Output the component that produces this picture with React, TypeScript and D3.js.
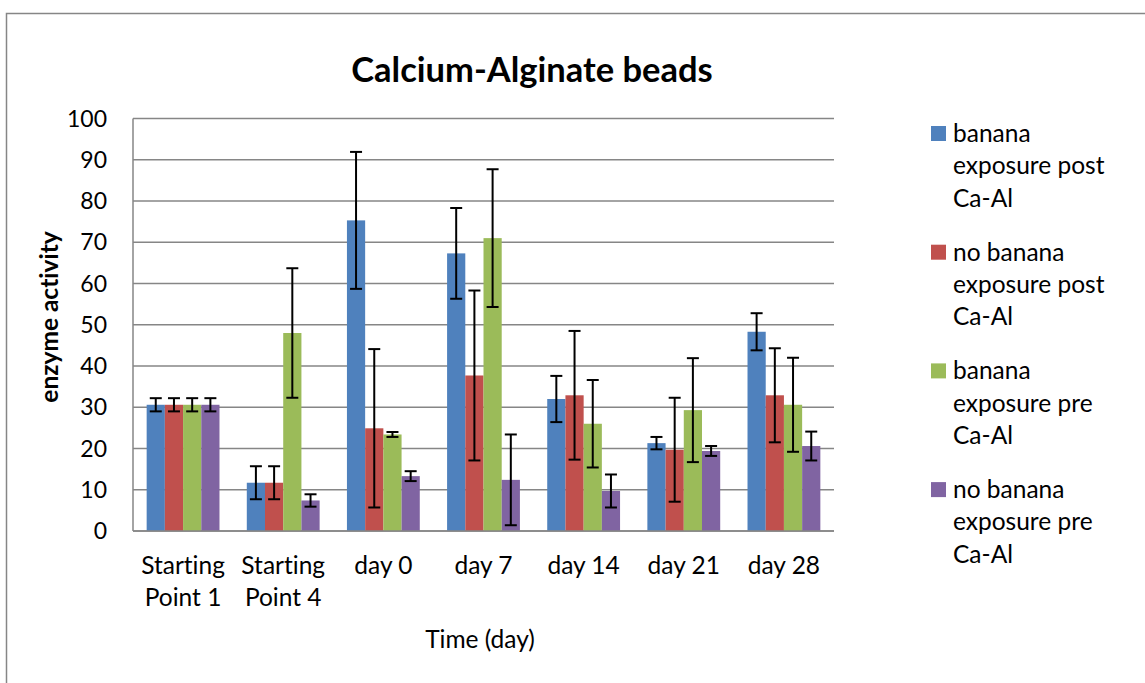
import React from "react";
import * as d3 from "d3";

const categories: string[][] = [
  ["Starting", "Point 1"],
  ["Starting", "Point 4"],
  ["day 0"],
  ["day 7"],
  ["day 14"],
  ["day 21"],
  ["day 28"],
];

const seriesNames: string[][] = [
  ["banana", "exposure post", "Ca-Al"],
  ["no banana", "exposure post", "Ca-Al"],
  ["banana", "exposure pre", "Ca-Al"],
  ["no banana", "exposure pre", "Ca-Al"],
];

const seriesColors = ["#4F81BD", "#C0504D", "#9BBB59", "#8064A2"];

const bananaPost = [30.6, 11.7, 75.3, 67.3, 32.0, 21.3, 48.3];
const noBananaPost = [30.6, 11.7, 24.9, 37.7, 32.9, 19.7, 32.9];
const bananaPre = [30.6, 48.0, 23.4, 71.0, 26.0, 29.3, 30.6];
const noBananaPre = [30.6, 7.4, 13.3, 12.4, 9.7, 19.4, 20.6];

const bananaPostErr = [1.6, 4.0, 16.6, 11.0, 5.6, 1.5, 4.5];
const noBananaPostErr = [1.6, 4.0, 19.2, 20.6, 15.6, 12.6, 11.4];
const bananaPreErr = [1.6, 15.7, 0.6, 16.7, 10.6, 12.6, 11.4];
const noBananaPreErr = [1.6, 1.5, 1.2, 11.0, 4.0, 1.2, 3.5];

const yTicks = [0, 10, 20, 30, 40, 50, 60, 70, 80, 90, 100];

const title = "Calcium-Alginate beads";
const yTitle = "enzyme activity";
const xTitle = "Time (day)";

const seriesValues = [bananaPost, noBananaPost, bananaPre, noBananaPre];
const seriesErrors = [bananaPostErr, noBananaPostErr, bananaPreErr, noBananaPreErr];

const FONT = "Lato, 'Open Sans', sans-serif";
const noLig: React.CSSProperties = {
  fontVariantLigatures: "none",
  fontFeatureSettings: '"liga" 0, "clig" 0, "dlig" 0',
};

export default function App() {
  const W = 1145;
  const H = 683;
  const left = 133;
  const right = 834;
  const top = 118.5;
  const bottom = 531;

  const x = d3
    .scaleBand<number>()
    .domain(d3.range(categories.length))
    .range([left, right])
    .padding(0);
  const xs = d3
    .scaleBand<number>()
    .domain(d3.range(seriesValues.length))
    .range([0, x.bandwidth()])
    .paddingInner(0)
    .paddingOuter(0.75);
  const y = d3.scaleLinear().domain([0, 100]).range([bottom, top]);

  const bw = xs.bandwidth();
  const capHalf = 6;
  const LABEL = 24.5;

  return (
    <svg
      width={W}
      height={H}
      style={{ position: "absolute", left: 0, top: 0, background: "#fff" }}
    >
      <rect x={0} y={0} width={W} height={H} fill="#fff" />
      <rect
        x={6.5}
        y={13.5}
        width={W + 20}
        height={H + 20}
        fill="none"
        stroke="#868686"
        strokeWidth={1.5}
      />
      <text
        x={532}
        y={82}
        textAnchor="middle"
        fontFamily={FONT}
        fontWeight="bold"
        fontSize={34.5}
        fill="#000"
        style={noLig}
      >
        {title}
      </text>

      {/* gridlines */}
      {yTicks.map((t) => (
        <line
          key={"g" + t}
          x1={left}
          x2={right}
          y1={y(t)}
          y2={y(t)}
          stroke="#868686"
          strokeWidth={1.4}
        />
      ))}
      {/* y tick labels */}
      {yTicks.map((t) => (
        <text
          key={"t" + t}
          x={107}
          y={y(t)}
          dy="0.35em"
          textAnchor="end"
          fontFamily={FONT}
          fontSize={23}
          fill="#000"
        >
          {t}
        </text>
      ))}

      {/* bars */}
      {seriesValues.map((vals, s) =>
        vals.map((v, i) => (
          <rect
            key={`b${s}-${i}`}
            x={(x(i) as number) + (xs(s) as number)}
            y={y(v)}
            width={bw}
            height={bottom - y(v)}
            fill={seriesColors[s]}
          />
        ))
      )}

      {/* axes */}
      <line x1={left} x2={left} y1={top} y2={bottom} stroke="#868686" strokeWidth={1.5} />
      <line x1={left} x2={right} y1={bottom} y2={bottom} stroke="#868686" strokeWidth={1.5} />

      {/* error bars */}
      {seriesValues.map((vals, s) =>
        vals.map((v, i) => {
          const cx = (x(i) as number) + (xs(s) as number) + bw / 2;
          const e = seriesErrors[s][i];
          const y1 = y(v + e);
          const y2 = y(Math.max(0, v - e));
          return (
            <g key={`e${s}-${i}`} stroke="#000" strokeWidth={2}>
              <line x1={cx} x2={cx} y1={y1} y2={y2} />
              <line x1={cx - capHalf} x2={cx + capHalf} y1={y1} y2={y1} />
              <line x1={cx - capHalf} x2={cx + capHalf} y1={y2} y2={y2} />
            </g>
          );
        })
      )}

      {/* x labels */}
      {categories.map((lines, i) => (
        <text
          key={"c" + i}
          textAnchor="middle"
          fontFamily={FONT}
          fontSize={LABEL}
          fill="#000"
          style={noLig}
        >
          {lines.map((l, j) => (
            <tspan
              key={j}
              x={(x(i) as number) + x.bandwidth() / 2}
              y={574 + j * 32}
            >
              {l}
            </tspan>
          ))}
        </text>
      ))}

      <text
        x={480}
        y={648}
        textAnchor="middle"
        fontFamily={FONT}
        fontSize={LABEL}
        fill="#000"
        style={noLig}
      >
        {xTitle}
      </text>

      <text
        transform="translate(58,317) rotate(-90)"
        textAnchor="middle"
        fontFamily={FONT}
        fontWeight="bold"
        fontSize={LABEL}
        fill="#000"
        style={noLig}
      >
        {yTitle}
      </text>

      {/* legend */}
      {seriesNames.map((lines, s) => {
        const base = 142 + s * 118.7;
        return (
          <g key={"l" + s}>
            <rect x={931} y={base - 16} width={15} height={15} fill={seriesColors[s]} />
            <text fontFamily={FONT} fontSize={LABEL} fill="#000" style={noLig}>
              {lines.map((l, j) => (
                <tspan key={j} x={953} y={base + j * 32.3}>
                  {l}
                </tspan>
              ))}
            </text>
          </g>
        );
      })}
    </svg>
  );
}
